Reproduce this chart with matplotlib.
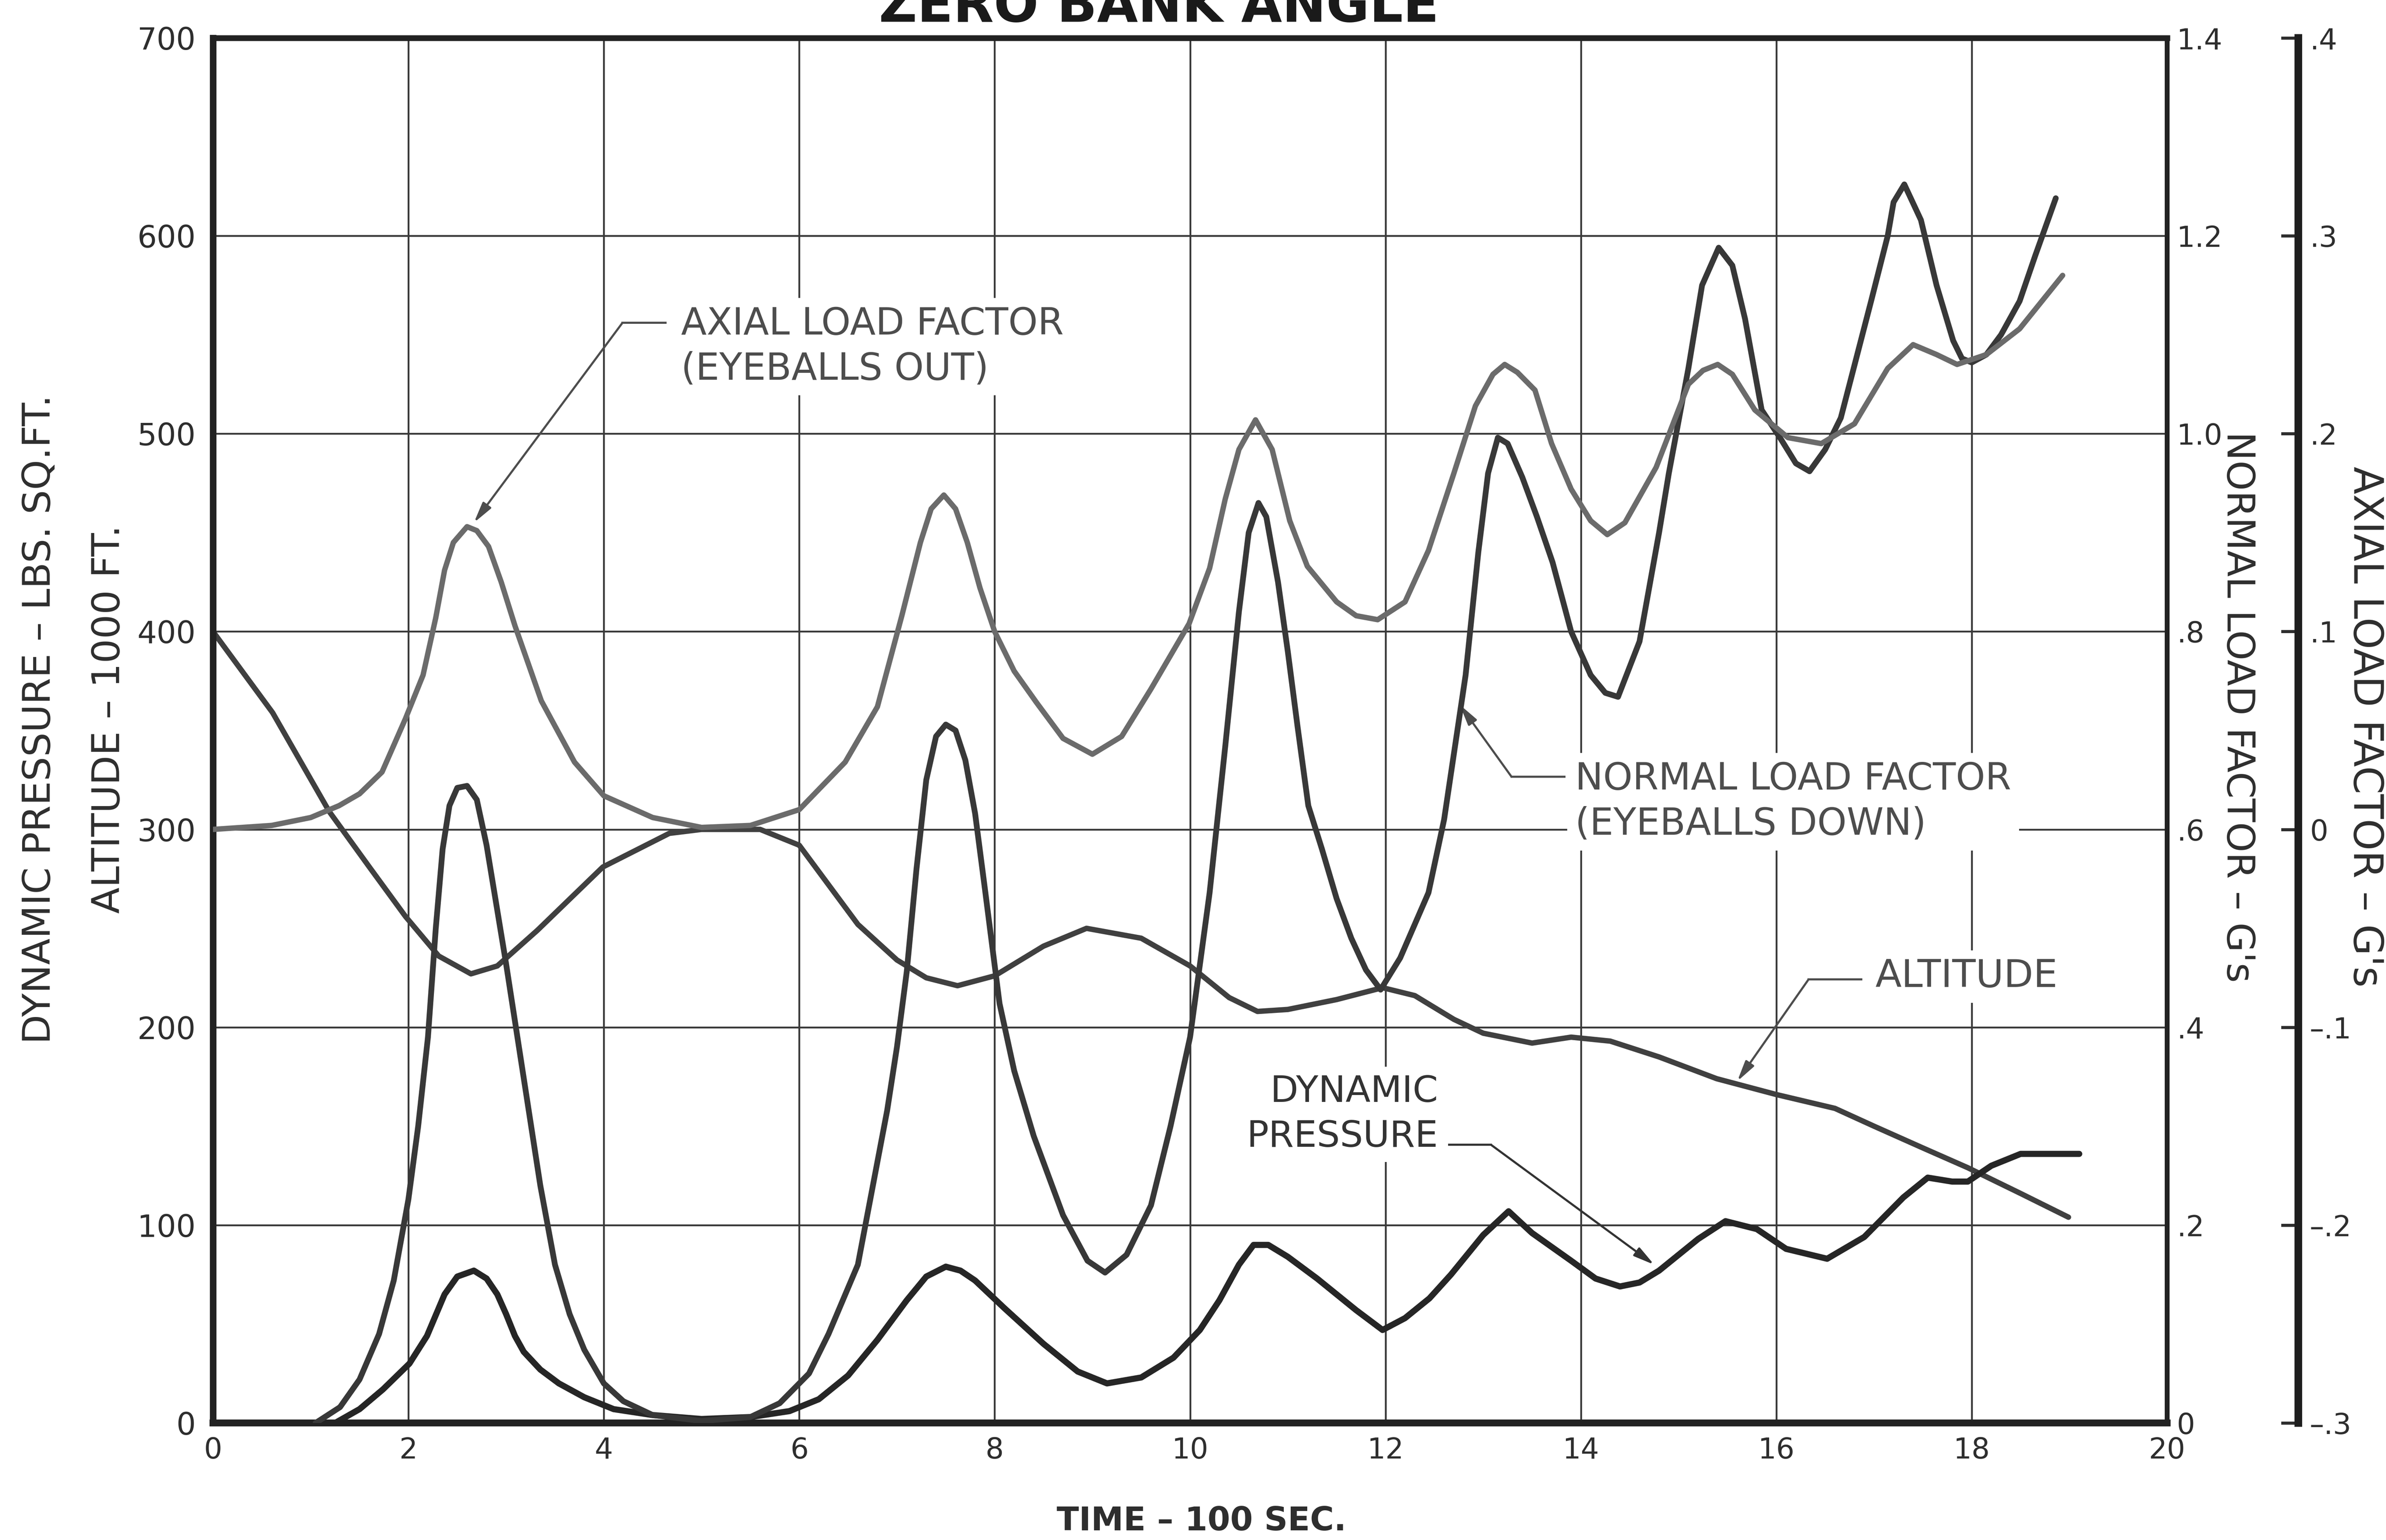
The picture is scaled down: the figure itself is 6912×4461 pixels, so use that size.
import numpy as np
import matplotlib
matplotlib.use('Agg')
import matplotlib.pyplot as plt

plt.rcParams['font.family'] = ['DejaVu Sans']

# time in units of 100 sec
alt_t = [0, 0.61, 1.19, 1.6, 1.97, 2.31, 2.64, 2.91, 3.32, 3.99, 4.67, 5.0, 5.6, 6.0, 6.3, 6.6, 7.0, 7.3, 7.62,
         8.0, 8.5, 8.94, 9.5, 10.0, 10.4, 10.69, 11.0, 11.5, 11.97, 12.3, 12.7, 13.0, 13.5, 13.9, 14.3, 14.8,
         15.39, 16.0, 16.6, 17.0, 17.5, 17.96, 18.5, 18.99]
altitude = [400, 359, 309, 281, 256, 236, 227, 231, 249, 281, 298, 300, 300, 292, 272, 252, 234, 225, 221,
            226, 241, 250, 245, 231, 215, 208, 209, 214, 220, 216, 204, 197, 192, 195, 193, 185,
            174, 166, 159, 150, 139, 129, 116, 104]

dp_t = [1.25, 1.5, 1.74, 2.01, 2.19, 2.37, 2.5, 2.67, 2.8, 2.91, 3.0, 3.09, 3.18, 3.35, 3.54, 3.8, 4.1, 4.5,
        5.0, 5.5, 5.9, 6.2, 6.5, 6.8, 7.1, 7.3, 7.5, 7.65, 7.8, 8.1, 8.5, 8.85, 9.15, 9.5, 9.83, 10.1, 10.3,
        10.5, 10.65, 10.8, 11.0, 11.3, 11.7, 11.97, 12.2, 12.45, 12.67, 13.0, 13.26, 13.5, 13.9, 14.15, 14.4,
        14.6, 14.8, 15.2, 15.48, 15.8, 16.1, 16.52, 16.9, 17.3, 17.55, 17.8, 17.96, 18.2, 18.5, 19.1]
dyn_pressure = [0, 7, 17, 30, 44, 65, 74, 77, 73, 65, 55, 44, 36, 27, 20, 13, 7, 4,
                2, 3, 6, 12, 24, 42, 62, 74, 79, 77, 72, 58, 40, 26, 20, 23, 33, 47, 62,
                80, 90, 90, 84, 73, 57, 47, 53, 63, 75, 95, 107, 96, 82, 73, 69,
                71, 77, 93, 102, 98, 88, 83, 94, 114, 124, 122, 122, 130, 136, 136]

nlf_t = [1.05, 1.3, 1.5, 1.7, 1.85, 2.0, 2.1, 2.2, 2.28, 2.35, 2.42, 2.5, 2.6, 2.7, 2.8, 2.9, 3.0, 3.1, 3.2,
         3.35, 3.5, 3.65, 3.8, 4.0, 4.2, 4.5, 5.0, 5.5, 5.8, 6.1, 6.3, 6.6, 6.9, 7.0, 7.1, 7.2, 7.3, 7.4, 7.5,
         7.6, 7.7, 7.8, 7.9, 8.05, 8.2, 8.4, 8.7, 8.95, 9.13, 9.35, 9.6, 9.8, 10.0, 10.2, 10.36, 10.5, 10.6,
         10.7, 10.78, 10.9, 11.0, 11.1, 11.21, 11.35, 11.5, 11.65, 11.8, 11.95, 12.15, 12.44, 12.6, 12.82, 12.95,
         13.05, 13.15, 13.25, 13.4, 13.55, 13.71, 13.9, 14.1, 14.25, 14.38, 14.6, 14.8, 14.9, 15.1, 15.24, 15.41,
         15.55, 15.68, 15.85, 16.05, 16.2, 16.34, 16.5, 16.66, 16.97, 17.14, 17.2, 17.31, 17.48, 17.64, 17.81,
         17.9, 18.0, 18.15, 18.3, 18.49, 18.65, 18.86]
# normal load factor, G's
normal_lf = [0, .016, .044, .09, .144, .226, .30, .39, .50, .58, .624, .642, .644, .63, .584, .524, .464, .40, .336,
             .24, .16, .11, .074, .04, .022, .008, .002, .006, .02, .05, .09, .16, .316, .38, .456, .56, .65, .694, .706,
             .70, .67, .616, .54, .424, .356, .29, .21, .164, .152, .17, .22, .30, .39, .536, .684, .82, .90,
             .93, .916, .85, .78, .704, .624, .58, .53, .49, .458, .438, .47, .536, .61, .756, .88,
             .96, .996, .99, .956, .916, .87, .80, .756, .738, .734, .79, .90, .96, 1.066, 1.15, 1.188,
             1.17, 1.116, 1.024, .994, .97, .962, .984, 1.016, 1.134, 1.20, 1.234, 1.252, 1.216, 1.15, 1.094,
             1.076, 1.072, 1.08, 1.10, 1.134, 1.18, 1.238]

alf_t = [0, 0.6, 1.0, 1.29, 1.5, 1.73, 1.97, 2.15, 2.28, 2.37, 2.46, 2.6, 2.7, 2.82, 2.95, 3.09, 3.36, 3.7, 4.0,
         4.5, 5.0, 5.5, 6.0, 6.47, 6.8, 7.05, 7.24, 7.35, 7.48, 7.6, 7.72, 7.85, 8.0, 8.2, 8.43, 8.7, 9.0, 9.3,
         9.6, 9.99, 10.2, 10.36, 10.5, 10.67, 10.84, 11.02, 11.2, 11.5, 11.7, 11.92, 12.2, 12.44, 12.7, 12.92,
         13.1, 13.22, 13.35, 13.53, 13.7, 13.9, 14.1, 14.27, 14.45, 14.77, 15.1, 15.25, 15.4, 15.55, 15.78,
         16.12, 16.46, 16.8, 17.14, 17.4, 17.64, 17.85, 18.15, 18.49, 18.93]
# axial load factor, G's
axial_lf = [0, .002, .006, .012, .018, .029, .056, .078, .107, .131, .145, .153, .151, .143, .125, .103, .065, .034, .017,
            .006, .001, .002, .01, .034, .062, .108, .145, .162, .169, .162, .145, .122, .10, .08, .064, .046, .038, .047,
            .071, .104, .132, .167, .192, .207, .192, .156, .133, .115, .108, .106, .115, .141, .18, .214,
            .23, .235, .231, .222, .195, .172, .156, .149, .155, .183, .225, .232, .235, .23, .212,
            .198, .195, .205, .233, .245, .24, .235, .24, .253, .28]

time_ticks = [0, 2, 4, 6, 8, 10, 12, 14, 16, 18, 20]
left_ticks = [0, 100, 200, 300, 400, 500, 600, 700]
normal_ticks = [0, .2, .4, .6, .8, 1.0, 1.2, 1.4]
normal_labels = ['0', '.2', '.4', '.6', '.8', '1.0', '1.2', '1.4']
axial_ticks = [-.3, -.2, -.1, 0, .1, .2, .3, .4]
axial_labels = ['\u2013.3', '\u2013.2', '\u2013.1', '0', '.1', '.2', '.3', '.4']

ink = '#2e2e2e'
note = '#4d4d4d'

fig = plt.figure(figsize=(17.28, 11.1525), dpi=400)
ax = fig.add_axes([0.08927, 0.07599, 0.81901, 0.89935])

ax.plot(alt_t, altitude, color='#404040', lw=2.8, solid_joinstyle='round', solid_capstyle='round')
ax.plot(dp_t, dyn_pressure, color='#262626', lw=3.2, solid_joinstyle='round', solid_capstyle='round')

ax.set_xlim(0, 20)
ax.set_ylim(0, 700)
ax.set_xticks(time_ticks)
ax.set_yticks(left_ticks)
ax.grid(True, color='#3a3a3a', lw=0.95)
ax.tick_params(axis='both', length=0, colors=ink)
ax.tick_params(axis='y', labelsize=16, pad=9)
ax.tick_params(axis='x', labelsize=15, pad=7)
ax.spines['left'].set_linewidth(3.4)
ax.spines['bottom'].set_linewidth(3.6)
ax.spines['top'].set_linewidth(3.0)
ax.spines['right'].set_linewidth(2.5)
for s in ax.spines.values():
    s.set_color('#222222')

# normal load factor scale on the right frame
ax_n = ax.twinx()
ax_n.plot(nlf_t, normal_lf, color='#383838', lw=3.0, solid_joinstyle='round', solid_capstyle='round')
ax_n.set_ylim(0, 1.4)
ax_n.set_yticks(normal_ticks)
ax_n.set_yticklabels(normal_labels)
ax_n.tick_params(axis='y', length=0, pad=5, labelsize=15, colors=ink)
for side in ['left', 'top', 'bottom']:
    ax_n.spines[side].set_visible(False)
ax_n.spines['right'].set_linewidth(2.5)
ax_n.spines['right'].set_color('#222222')

# axial load factor scale, offset further right
ax_a = ax.twinx()
ax_a.plot(alf_t, axial_lf, color='#6b6b6b', lw=2.8, solid_joinstyle='round', solid_capstyle='round')
ax_a.set_ylim(-0.3, 0.4)
ax_a.set_yticks(axial_ticks)
ax_a.set_yticklabels(axial_labels)
ax_a.spines['right'].set_position(('outward', 68.4))
for side in ['left', 'top', 'bottom']:
    ax_a.spines[side].set_visible(False)
ax_a.spines['right'].set_linewidth(4)
ax_a.spines['right'].set_color('#1e1e1e')
ax_a.tick_params(axis='y', direction='in', length=9, width=1.6, pad=6, labelsize=15, colors=ink)

# annotations
box = dict(fc='white', ec='none', pad=4)
arrow = dict(arrowstyle='-|>,head_length=0.9,head_width=0.22', color=note, lw=1.1,
             shrinkA=0, shrinkB=0, mutation_scale=10)

ax.text(4.79, 544, 'AXIAL LOAD FACTOR\n(EYEBALLS OUT)', ha='left', va='center', fontsize=19.5,
        color=note, linespacing=1.3, bbox=box)
ax.plot([4.19, 4.63], [556, 556], color=note, lw=1.1)
ax.annotate('', xy=(2.67, 455), xytext=(4.19, 556), arrowprops=arrow)

ax.text(13.94, 314, 'NORMAL LOAD FACTOR\n(EYEBALLS DOWN)', ha='left', va='center', fontsize=19.5,
        color=note, linespacing=1.3, bbox=box)
ax.plot([13.29, 13.83], [326.6, 326.6], color=note, lw=1.1)
ax.annotate('', xy=(12.76, 363), xytext=(13.29, 326.6), arrowprops=arrow)

ax.text(17.01, 225.6, 'ALTITUDE', ha='left', va='center', fontsize=20, color=note, bbox=box)
ax.plot([16.33, 16.87], [224.2, 224.2], color=note, lw=1.1)
ax.annotate('', xy=(15.6, 172.7), xytext=(16.33, 224.2), arrowprops=arrow)

ax.text(12.54, 156, 'DYNAMIC\nPRESSURE', ha='right', va='center', fontsize=19, color='#333333',
        linespacing=1.35, multialignment='right', bbox=box)
ax.plot([12.65, 13.08], [140.6, 140.6], color='#333333', lw=1.1)
ax.annotate('', xy=(14.75, 80), xytext=(13.08, 140.6),
            arrowprops=dict(arrow, color='#333333'))

# axis titles
fig.text(0.0166, 0.533, 'DYNAMIC PRESSURE \u2013 LBS. SQ.FT.', rotation=90, ha='center', va='center',
         fontsize=20, color=ink)
fig.text(0.0457, 0.533, 'ALTITUDE \u2013 1000 FT.', rotation=90, ha='center', va='center',
         fontsize=20, color=ink)
fig.text(0.9378, 0.541, "NORMAL LOAD FACTOR \u2013 G's", rotation=270, ha='center', va='center',
         fontsize=20, color=ink)
fig.text(0.9913, 0.528, "AXIAL LOAD FACTOR \u2013 G's", rotation=270, ha='center', va='center',
         fontsize=21, color=ink)
fig.text(0.5035, 0.0121, 'TIME \u2013 100 SEC.', ha='center', va='center', fontsize=17,
         fontweight='bold', color=ink)
fig.text(0.4857, 0.9859, 'ZERO BANK ANGLE', ha='center', va='baseline', fontsize=27.5,
         fontweight='bold', color='#1a1a1a')

fig.savefig('out.png', dpi=400, facecolor='white')
